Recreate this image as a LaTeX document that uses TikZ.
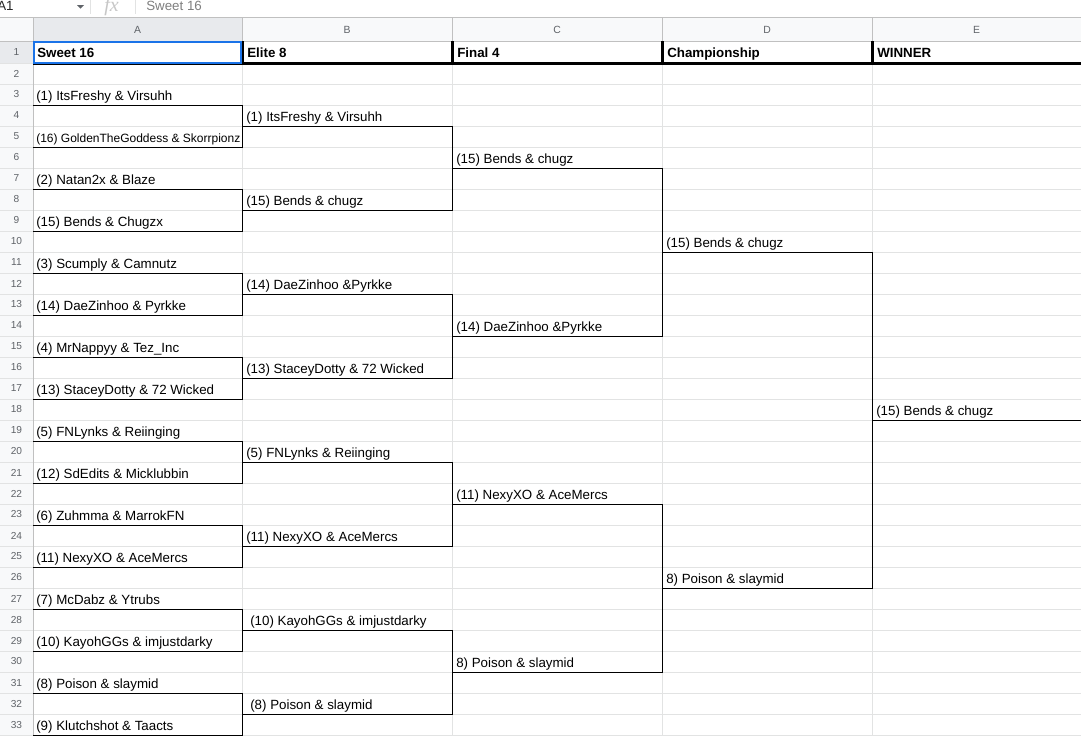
\documentclass[tikz,border=0pt]{standalone}
\usepackage{fontspec}
\setmainfont{Liberation Sans}
\newfontfamily\fxfont{Liberation Serif}
\definecolor{gridc}{HTML}{E2E3E3}
\definecolor{hdrline}{HTML}{C0C0C0}
\definecolor{hdrbg}{HTML}{F8F9FA}
\definecolor{hdrsel}{HTML}{E8EAED}
\definecolor{selblue}{HTML}{1A73E8}
\definecolor{hdrtxt}{HTML}{5F6368}
\definecolor{fbtxt}{HTML}{7F7F7F}
\tikzset{
  team/.style={anchor=base west, inner sep=0pt, font=\fontsize{10}{12}\selectfont, text=black},
  smallteam/.style={team, font=\fontsize{9}{11}\selectfont},
  headtxt/.style={anchor=base west, inner sep=0pt, font=\fontsize{10}{12}\selectfont\bfseries},
  rownum/.style={inner sep=0pt, font=\fontsize{7.6}{9}\selectfont, text=hdrtxt},
  colletter/.style={inner sep=0pt, font=\fontsize{7.8}{9}\selectfont, text=hdrtxt},
  bracket/.style={draw=black, line width=0.75pt},
  thick border/.style={draw=black, line width=2.25pt},
  gridline/.style={draw=gridc, line width=0.75pt},
  hdrgrid/.style={draw=hdrline, line width=0.75pt}
}
\begin{document}
\begin{tikzpicture}[x=0.75pt,y=-0.75pt]
\useasboundingbox (0,0) rectangle (1081,736);
\fill[white] (0,0) rectangle (1081,736);

% formula bar
\node[anchor=base west, inner sep=0pt, font=\fontsize{10}{12}\selectfont, text=black!85] (cellref) at (-3,10) {A1};
\fill[hdrtxt] (77,5) -- (84,5) -- (80.5,8.5) -- cycle;
\draw[gridc, line width=0.75pt] (90.5,0) -- (90.5,14);
\node[anchor=base west, inner sep=0pt, font=\fontsize{15}{15}\fxfont\itshape, text=black!22] (fx) at (104,11) {fx};
\draw[gridc, line width=0.75pt] (135,0) -- (135,14);
\node[anchor=base west, inner sep=0pt, font=\fontsize{10}{12}\selectfont, text=fbtxt] (fbval) at (146,10) {Sweet 16};

% header backgrounds
\fill[hdrbg] (0,17) rectangle (1081,41);
\fill[hdrbg] (0,41) rectangle (33,736);
\fill[hdrsel] (33,17) rectangle (242,41);
\fill[hdrsel] (0,41) rectangle (33,63);

% grid lines
\foreach \r in {2,...,33} {
  \draw[gridline] (33,{42+21*\r}) -- (1081,{42+21*\r});
  \draw[gridline] (0,{42+21*\r}) -- (33,{42+21*\r});
}
\draw[gridline] (0,63) -- (1081,63);
\foreach \xx in {242,452,662,872} {
  \draw[gridline] (\xx,41) -- (\xx,736);
  \draw[hdrgrid] (\xx,17) -- (\xx,41);
}
\draw[hdrgrid] (33,17) -- (33,736);
\draw[hdrgrid] (0,17) -- (1081,17);
\draw[hdrgrid] (0,41) -- (1081,41);

% column letters
\node[colletter] (colA) at (137.5,29.5) {A};
\node[colletter] (colB) at (347,29.5) {B};
\node[colletter] (colC) at (557,29.5) {C};
\node[colletter] (colD) at (767,29.5) {D};
\node[colletter] (colE) at (976.5,29.5) {E};

% row numbers
\node[rownum] (row1) at (16.5,52) {1};
\foreach \r in {2,...,33} {
  \node[rownum] (row\r) at (16.5,{42+21*\r-10.5}) {\r};
}

% header row
\node[headtxt] (hA) at (37,57) {Sweet 16};
\node[headtxt] (hB) at (247,57) {Elite 8};
\node[headtxt] (hC) at (457,57) {Final 4};
\node[headtxt] (hD) at (667,57) {Championship};
\node[headtxt] (hE) at (877,57) {WINNER};
\draw[thick border] (242,63.5) -- (1081,63.5);
\foreach \xx in {242,452,662,872} {
  \draw[thick border] (\xx,41) -- (\xx,63);
}
\draw[draw=black, line width=0.75pt] (33,64) -- (242,64);
\draw[selblue, line width=1.5pt] (34,42) rectangle (241,62.5);

% brackets
\foreach \k in {0,...,7} {
  \draw[bracket] (33,{42+21*(3+4*\k)}) -- (242,{42+21*(3+4*\k)}) -- (242,{42+21*(5+4*\k)}) -- (33,{42+21*(5+4*\k)});
}
\foreach \k in {0,...,3} {
  \draw[bracket] (242,{42+21*(4+8*\k)}) -- (452,{42+21*(4+8*\k)}) -- (452,{42+21*(8+8*\k)}) -- (242,{42+21*(8+8*\k)});
}
\foreach \k in {0,1} {
  \draw[bracket] (452,{42+21*(6+16*\k)}) -- (662,{42+21*(6+16*\k)}) -- (662,{42+21*(14+16*\k)}) -- (452,{42+21*(14+16*\k)});
}
\draw[bracket] (662,{42+21*10}) -- (872,{42+21*10}) -- (872,{42+21*26}) -- (662,{42+21*26});
\draw[bracket] (872,{42+21*18}) -- (1081,{42+21*18});

% Sweet 16
\foreach \r/\t in {3/(1) ItsFreshy \& Virsuhh, 7/(2) Natan2x \& Blaze, 9/(15) Bends \& Chugzx,
  11/(3) Scumply \& Camnutz, 13/(14) DaeZinhoo \& Pyrkke, 15/(4) MrNappyy \& Tez\_Inc,
  17/(13) StaceyDotty \& 72 Wicked, 19/(5) FNLynks \& Reiinging, 21/(12) SdEdits \& Micklubbin,
  23/(6) Zuhmma \& MarrokFN, 25/(11) NexyXO \& AceMercs, 27/(7) McDabz \& Ytrubs,
  29/(10) KayohGGs \& imjustdarky, 31/(8) Poison \& slaymid, 33/(9) Klutchshot \& Taacts} {
  \node[team] (a\r) at (36,{42+21*\r-5}) {\t};
}
\node[smallteam] (a5) at (36,{42+21*5-5}) {(16) GoldenTheGoddess \& Skorrpionz};

% Elite 8
\foreach \r/\t in {4/(1) ItsFreshy \& Virsuhh, 8/(15) Bends \& chugz, 12/(14) DaeZinhoo \&Pyrkke,
  16/(13) StaceyDotty \& 72 Wicked, 20/(5) FNLynks \& Reiinging, 24/(11) NexyXO \& AceMercs} {
  \node[team] (b\r) at (246,{42+21*\r-5}) {\t};
}
\node[team] (b28) at (250,{42+21*28-5}) {(10) KayohGGs \& imjustdarky};
\node[team] (b32) at (250,{42+21*32-5}) {(8) Poison \& slaymid};

% Final 4
\foreach \r/\t in {6/(15) Bends \& chugz, 14/(14) DaeZinhoo \&Pyrkke, 22/(11) NexyXO \& AceMercs, 30/8) Poison \& slaymid} {
  \node[team] (c\r) at (456,{42+21*\r-5}) {\t};
}

% Championship
\node[team] (d10) at (666,{42+21*10-5}) {(15) Bends \& chugz};
\node[team] (d26) at (666,{42+21*26-5}) {8) Poison \& slaymid};

% Winner
\node[team] (e18) at (876,{42+21*18-5}) {(15) Bends \& chugz};
\end{tikzpicture}
\end{document}
